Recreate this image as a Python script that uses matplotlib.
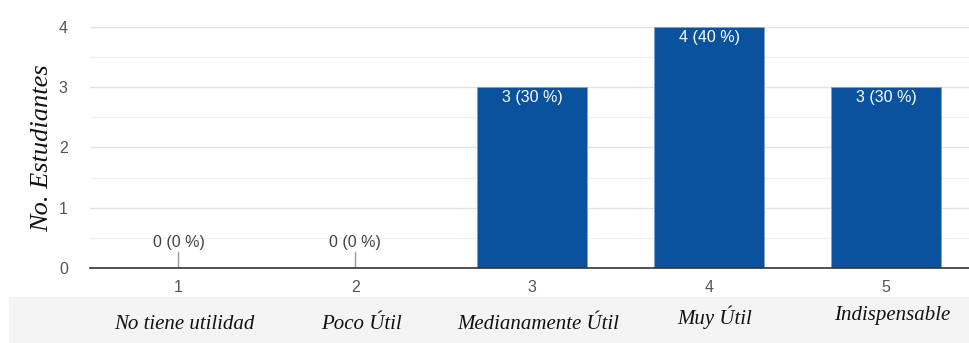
import matplotlib.pyplot as plt
import matplotlib.patches as mpatches
import matplotlib as mpl

mpl.rcParams['hatch.color'] = '#e9e9e9'
mpl.rcParams['hatch.linewidth'] = 0.6

# encuesta: utilidad percibida (escala 1-5)
escala = [1, 2, 3, 4, 5]
nombres = ["No tiene utilidad", "Poco Útil", "Medianamente Útil", "Muy Útil", "Indispensable"]
estudiantes = [0, 0, 3, 4, 3]
porcentajes = [0, 0, 30, 40, 30]

azul = '#0b529e'
gris_txt = '#555555'

fig = plt.figure(figsize=(9.7, 3.43), dpi=100)
ax = fig.add_axes([0.0928, 0.2187, 0.912, 0.7026])

bars = ax.bar(escala, estudiantes, width=0.62, color=azul, edgecolor='#7fa3cf', linewidth=0.6, zorder=3)

for x, n, p in zip(escala, estudiantes, porcentajes):
    txt = f"{n} ({p} %)"
    if n > 0:
        ax.text(x, n - 0.05, txt, ha='center', va='top', color='white', fontsize=11.5,
                family='Liberation Sans', zorder=4)
    else:
        ax.plot([x, x], [0, 0.26], color='#999999', lw=1, zorder=3)
        ax.text(x, 0.30, txt, ha='center', va='bottom', color='#444444', fontsize=11.5,
                family='Liberation Sans', zorder=4)

ax.set_xlim(0.5, 5.5)
ax.set_ylim(0, 4)
ax.set_yticks([0, 1, 2, 3, 4])
ax.set_yticks([0.5, 1.5, 2.5, 3.5], minor=True)
ax.set_xticks(escala)
ax.tick_params(axis='both', length=0, labelsize=11.5, colors=gris_txt, labelfontfamily='Liberation Sans')
ax.tick_params(axis='x', pad=9)
ax.tick_params(axis='y', pad=16)
ax.tick_params(which='minor', length=0)
ax.grid(axis='y', which='major', color='#e4e4e4', lw=1, zorder=0)
ax.grid(axis='y', which='minor', color='#f0f0f0', lw=1, zorder=0)
for s in ['top', 'right', 'left']:
    ax.spines[s].set_visible(False)
ax.spines['bottom'].set_color('#333333')
ax.spines['bottom'].set_linewidth(1.2)
ax.spines['bottom'].set_zorder(5)
ax.axhline(4, color='#dcdcdc', lw=1.5, zorder=1)

# franja inferior con los nombres de la escala
franja = mpatches.Rectangle((9 / 970, 0), 1, 46 / 343, transform=fig.transFigure,
                            facecolor='#f4f4f4', edgecolor='none', hatch='//////', zorder=0)
fig.patches.append(franja)

alturas = [0.055, 0.055, 0.055, 0.075, 0.08]
for x, nom, h in zip(escala, nombres, alturas):
    xf = ax.transData.transform((x, 0))[0] / fig.dpi / fig.get_figwidth()
    fig.text(xf + 0.006, h, nom, ha='center', va='center', fontsize=15,
             family='Liberation Serif', style='italic', color='#111111')

fig.text(0.043, 0.568, "No. Estudiantes", rotation=90, ha='center', va='center', fontsize=19,
         family='Liberation Serif', style='italic', color='#111111')

fig.savefig('out.png', dpi=100)
